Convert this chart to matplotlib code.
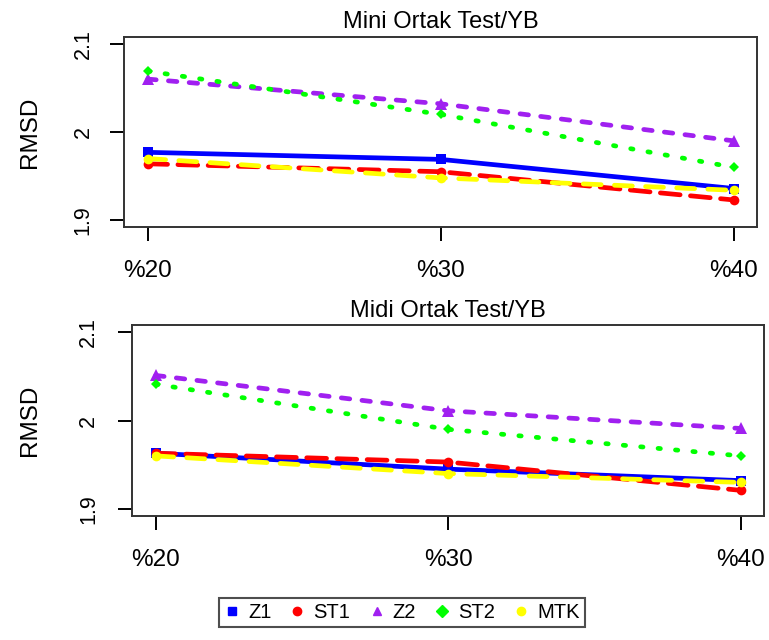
import matplotlib
matplotlib.use("Agg")
import matplotlib.pyplot as plt
from matplotlib.lines import Line2D

plt.rcParams['font.family'] = ['Liberation Sans', 'DejaVu Sans']

oranlar = ["%20", "%30", "%40"]
xpos = [0, 1, 2]

# Mini Ortak Test/YB
mini_Z1 = [1.977, 1.969, 1.936]
mini_ST1 = [1.964, 1.955, 1.923]
mini_Z2 = [2.060, 2.032, 1.990]
mini_ST2 = [2.069, 2.020, 1.960]
mini_MTK = [1.970, 1.948, 1.934]

# Midi Ortak Test/YB
midi_Z1 = [1.963, 1.945, 1.932]
midi_ST1 = [1.963, 1.953, 1.921]
midi_Z2 = [2.051, 2.011, 1.991]
midi_ST2 = [2.041, 1.990, 1.960]
midi_MTK = [1.960, 1.940, 1.930]

seriler = ["Z1", "ST1", "Z2", "ST2", "MTK"]
renkler = ["#0000FF", "#FF0000", "#A020F0", "#00FF00", "#FFFF00"]
isaretler = ["s", "o", "^", "D", "o"]
cizgiler = ["-", (0, (4.2, 2.2)), (0, (1.8, 2.6)), (0, (0.5, 3.2)), (0, (3.8, 2.8))]
msize = [7, 7, 8, 5.5, 7]

fig = plt.figure(figsize=(7.69, 6.4), dpi=100)
ax1 = fig.add_axes([0.1616, 0.6448, 0.8231, 0.2978])
ax2 = fig.add_axes([0.1720, 0.19375, 0.8218, 0.2984])

def ciz(ax, veri, baslik, ypad, ylab_x):
    for i in range(len(seriler)):
        ax.plot(xpos, veri[i], color=renkler[i], linestyle=cizgiler[i], linewidth=3.4,
                marker=isaretler[i], markersize=msize[i], markeredgewidth=0,
                dash_capstyle="round", solid_capstyle="round")
    ax.set_xlim(-0.08, 2.08)
    ax.set_ylim(1.892, 2.108)
    ax.set_xticks(xpos)
    ax.set_xticklabels(oranlar, fontsize=17.5)
    ax.set_yticks([1.9, 2.0, 2.1])
    ax.set_yticklabels(["1.9", "2", "2.1"], fontsize=15.5, rotation=90, va="center")
    ax.tick_params(axis="x", direction="out", length=10, width=1.4, pad=13.5)
    ax.tick_params(axis="y", direction="out", length=10, width=1.4, pad=ypad)
    for s in ax.spines.values():
        s.set_linewidth(1.4)
        s.set_color("#333333")
    ax.set_title(baslik, fontsize=17, pad=6)
    ax.set_ylabel("RMSD", fontsize=17.5)
    ax.yaxis.set_label_coords(ylab_x, 0.5)

ciz(ax1, [mini_Z1, mini_ST1, mini_Z2, mini_ST2, mini_MTK], "Mini Ortak Test/YB", 12, -0.132)
ciz(ax2, [midi_Z1, midi_ST1, midi_Z2, midi_ST2, midi_MTK], "Midi Ortak Test/YB", 14, -0.145)

tutamaclar = [Line2D([], [], color=renkler[i], marker=isaretler[i], linestyle="none",
                     markersize=6) for i in range(len(seriler))]
leg = fig.legend(tutamaclar, seriler, loc="center", bbox_to_anchor=(0.5226, 0.0433),
                 ncol=5, fontsize=14.5, frameon=True, fancybox=False, handlelength=0.8,
                 handletextpad=0.4, columnspacing=0.9, borderpad=0.25, borderaxespad=0)
leg.get_frame().set_edgecolor("#222222")
leg.get_frame().set_linewidth(1.5)

plt.savefig("out.png", dpi=100)
